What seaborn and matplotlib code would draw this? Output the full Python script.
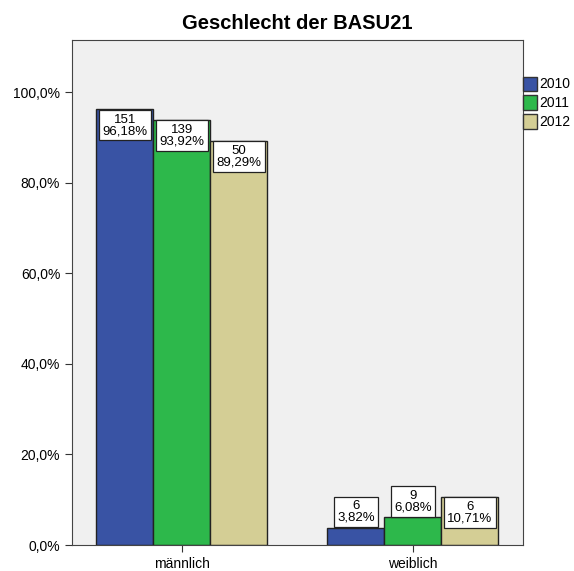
import matplotlib

matplotlib.use("Agg")

import matplotlib.pyplot as plt
import pandas as pd
import seaborn as sns
from matplotlib.patches import Patch
from matplotlib.ticker import FuncFormatter

categories = ["männlich", "weiblich"]
years = ["2010", "2011", "2012"]
counts = {
    "2010": [151, 6],
    "2011": [139, 9],
    "2012": [50, 6],
}
percents = {
    "2010": [96.18, 3.82],
    "2011": [93.92, 6.08],
    "2012": [89.29, 10.71],
}
COLORS = ["#3953A4", "#2DB84B", "#D4CE95"]

rows = []
for y in years:
    for c, n, p in zip(categories, counts[y], percents[y]):
        rows.append({"Geschlecht": c, "Jahr": y, "n": n, "pct": p / 100})
df = pd.DataFrame(rows)

sns.set_style("ticks")
plt.rcParams["font.family"] = ["Liberation Sans", "DejaVu Sans"]
plt.rcParams.update({"text.color": "black", "xtick.color": "#333333", "ytick.color": "#333333",
                     "xtick.labelcolor": "black", "ytick.labelcolor": "black"})

fig = plt.figure(figsize=(5.74, 5.71), dpi=100)
ax = fig.add_axes([0.1254, 0.0455, 0.7856, 0.8845])
sns.barplot(
    data=df,
    x="Geschlecht",
    y="pct",
    hue="Jahr",
    palette=COLORS,
    saturation=1,
    width=0.74,
    edgecolor="#222222",
    linewidth=1.0,
    legend=False,
    ax=ax,
)
ax.set_facecolor("#F0F0F0")
ax.set_xlim(-0.476, 1.476)
ax.set_ylim(0, 1.115)
ax.set_yticks([0, 0.2, 0.4, 0.6, 0.8, 1.0])
ax.yaxis.set_major_formatter(FuncFormatter(lambda v, _: f"{v * 100:.1f}%".replace(".", ",")))
ax.set_xlabel("")
ax.set_ylabel("")
ax.tick_params(axis="both", labelsize=10, length=5)
for s in ax.spines.values():
    s.set_visible(True)
    s.set_color("#444444")
ax.set_title("Geschlecht der BASU21", fontsize=14.5, fontweight="bold", pad=8)

for cont, y in zip(ax.containers, years):
    for bar, n, p in zip(cont, counts[y], percents[y]):
        h = bar.get_height()
        xc = bar.get_x() + bar.get_width() / 2
        label = f"{n}\n{p:.2f}%".replace(".", ",")
        inside = h > 0.09
        ax.annotate(label, (xc, h), xytext=(0, -3 if inside else 3), textcoords="offset points",
                    ha="center", va="top" if inside else "bottom", fontsize=9.5, linespacing=0.95,
                    bbox=dict(boxstyle="square,pad=0.25", fc="white", ec="#222222", lw=0.9))

handles = [Patch(facecolor=c, edgecolor="#333333", label=y) for c, y in zip(COLORS, years)]
fig.legend(handles=handles, loc="upper left", bbox_to_anchor=(0.911, 0.866),
           frameon=False, fontsize=10, handlelength=1.0, handleheight=1.2,
           handletextpad=0.15, labelspacing=0.3, borderaxespad=0, borderpad=0)

fig.savefig("out.png", dpi=100, facecolor="white")
